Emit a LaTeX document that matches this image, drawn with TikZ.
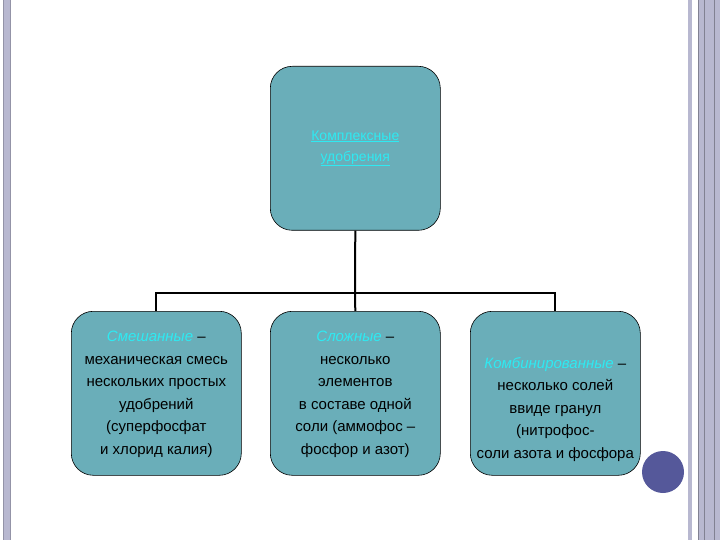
\documentclass[tikz,border=0pt]{standalone}
\usepackage{fontspec}
\setmainfont{Liberation Sans}
\definecolor{boxfill}{HTML}{6AAEB9}
\definecolor{cyantext}{HTML}{2EEAF2}
\definecolor{barcol}{HTML}{B8B8D0}
\definecolor{dotcol}{HTML}{55589A}
\begin{document}
\begin{tikzpicture}[x=1pt,y=-1pt,
  fbox/.style={draw=black,line width=0.6pt,fill=boxfill,rounded corners=22pt,minimum width=170pt,minimum height=164pt,anchor=north west,inner sep=0pt},
  ftext/.style={align=center,font=\fontsize{15}{22.5}\selectfont},
  conn/.style={line width=2pt}]
\useasboundingbox (0,0) rectangle (720,540);
\fill[white] (0,0) rectangle (720,540);
% borders
\fill[barcol] (3,0) rectangle (10,540);
\draw[barcol!80!black,line width=0.4pt] (3,0) -- (3,540) (10,0) -- (10,540);
\fill[barcol] (688,0) rectangle (692,540);
\fill[barcol] (698,0) rectangle (720,540);
\draw[barcol!70!black,line width=0.5pt] (698,0) -- (698,540) (704,0) -- (704,540) (714,0) -- (714,540);
% boxes
\node[fbox] (top) at (270,66) {};
\node[fbox] (l) at (71,311) {};
\node[fbox] (m) at (270,311) {};
\node[fbox] (r) at (470,311) {};
\node[ftext,font=\fontsize{14}{21}\selectfont,text=cyantext] (tt) at (top.center) {\underline{Комплексные}\\\underline{удобрения}};
\node[ftext] (lt) at ([yshift=-1pt]l.center) {\textcolor{cyantext}{\textit{Смешанные}} –\\механическая смесь\\нескольких простых\\удобрений\\(суперфосфат\\и хлорид калия)};
\node[ftext] (mt) at ([yshift=-1pt]m.center) {\textcolor{cyantext}{\textit{Сложные}} –\\несколько\\элементов\\в составе одной\\соли (аммофос –\\фосфор и азот)};
\node[ftext] (rt) at ([yshift=-16pt]r.center) {\textcolor{cyantext}{\textit{Комбинированные}} –\\несколько солей\\ввиде гранул\\(нитрофос-\\соли азота и фосфора};
% connectors
\coordinate (j) at (355,293);
\draw[conn] (top.south) -- (j);
\draw[conn] (l.north) |- (j) -| (r.north);
\draw[conn] (j) -- (m.north);
% dot
\node[circle,fill=dotcol,minimum size=42pt,inner sep=0pt] (dot) at (663,472) {};
\end{tikzpicture}
\end{document}
